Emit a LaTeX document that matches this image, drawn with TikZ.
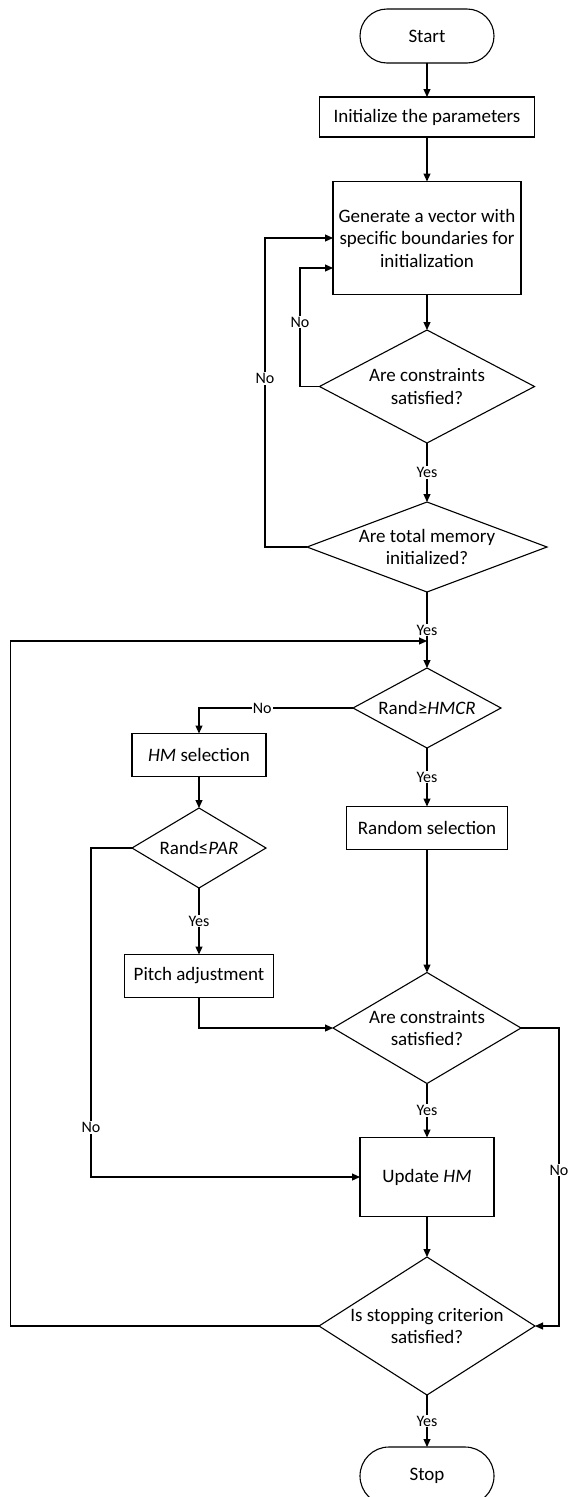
\documentclass[tikz,border=0pt]{standalone}
\usepackage{fontspec}
\setmainfont{Carlito}
\usetikzlibrary{shapes.geometric,shapes.misc,arrows.meta}
\newcommand\mainfs{\fontsize{19}{22.5}\selectfont}
\newcommand\labfs{\fontsize{16}{18}\selectfont}
\begin{document}
\begin{tikzpicture}[x=1pt,y=-1pt,line width=1.1pt,
  box/.style={draw,rectangle,inner sep=0pt,outer sep=0pt,align=center,font=\mainfs},
  term/.style={draw,rounded rectangle,inner sep=0pt,outer sep=0pt,font=\mainfs,minimum width=134pt},
  dia/.style={draw,diamond,inner sep=0pt,outer sep=0pt},
  dtext/.style={align=center,font=\mainfs,inner sep=0pt},
  arr/.style={-{Triangle[length=8pt,width=7pt]}},
  lab/.style={fill=white,inner sep=1pt,font=\labfs}]
\useasboundingbox (0,0) rectangle (568,1497);
\clip (0,0) rectangle (568,1497);

% nodes
\node[term,minimum height=54pt] (start) at (427,36) {Start};
\node[box,minimum width=215pt,minimum height=40pt] (init) at (427,117) {Initialize the parameters};
\node[box,minimum width=188pt,minimum height=113pt] (gen) at (427,238) {Generate a vector with\\specific boundaries for\\initialization};
\node[dia,minimum width=215pt,minimum height=113pt,
  label={[dtext]center:{Are constraints\\satisfied?}}] (d1) at (427,386.5) {};
\node[dia,minimum width=240pt,minimum height=90pt,
  label={[dtext]center:{Are total memory\\initialized?}}] (d2) at (427,547) {};
\coordinate (merge) at (427,641);
\node[dia,minimum width=148pt,minimum height=80pt,
  label={[dtext]center:{Rand≥\textit{HMCR}}}] (d3) at (427,708) {};
\node[box,minimum width=134pt,minimum height=43pt] (hm) at (199,755) {\textit{HM} selection};
\node[dia,minimum width=134pt,minimum height=80pt,
  label={[dtext]center:{Rand≤\textit{PAR}}}] (d4) at (199,848) {};
\node[box,minimum width=161pt,minimum height=43pt] (rnd) at (427,828) {Random selection};
\node[box,minimum width=149pt,minimum height=43pt] (pitch) at (199,976) {Pitch adjustment};
\node[dia,minimum width=188pt,minimum height=111pt,
  label={[dtext]center:{Are constraints\\satisfied?}}] (d5) at (427,1028) {};
\node[box,minimum width=134pt,minimum height=79pt] (upd) at (427,1177) {Update \textit{HM}};
\node[dia,minimum width=216pt,minimum height=138pt,
  label={[dtext]center:{Is stopping criterion\\satisfied?}}] (d6) at (427,1326) {};
\node[term,minimum height=58pt] (stop) at (427,1476) {Stop};

% connectors
\draw[arr] (start.south) -- (init.north);
\draw[arr] (init.south) -- (gen.north);
\draw[arr] (gen.south) -- (d1.north);
\draw[arr] (d1.west) -- (300,386.5) -- node[lab,pos=0.544]{No} (300,268) -- ([yshift=-30pt]gen.west);
\draw[arr] (d1.south) -- node[lab]{Yes} (d2.north);
\draw[arr] (d2.west) -- (265,547) -- node[lab,pos=0.545]{No} (265,238) -- (gen.west);
\draw[arr] (d2.south) -- node[lab,pos=0.5]{Yes} (d3.north);
\draw[arr] (d6.west) -- (10.7,1326) -- (10.7,641) -- (merge);
\draw[arr] (d3.west) -| node[lab,pos=0.295]{No} (hm.north);
\draw[arr] (d3.south) -- node[lab]{Yes} (rnd.north);
\draw[arr] (hm.south) -- (d4.north);
\draw[arr] (d4.south) -- node[lab]{Yes} (pitch.north);
\draw[arr] (d4.west) -- (91,848) -- node[lab,pos=0.85]{No} (91,1177) -- (upd.west);
\draw[arr] (rnd.south) -- (d5.north);
\draw[arr] (pitch.south) |- (d5.west);
\draw[arr] (d5.south) -- node[lab]{Yes} (upd.north);
\draw[arr] (d5.east) -- (559,1028) -- node[lab,pos=0.477]{No} (559,1326) -- (d6.east);
\draw[arr] (upd.south) -- (d6.north);
\draw[arr] (d6.south) -- node[lab]{Yes} (stop.north);
\end{tikzpicture}
\end{document}
